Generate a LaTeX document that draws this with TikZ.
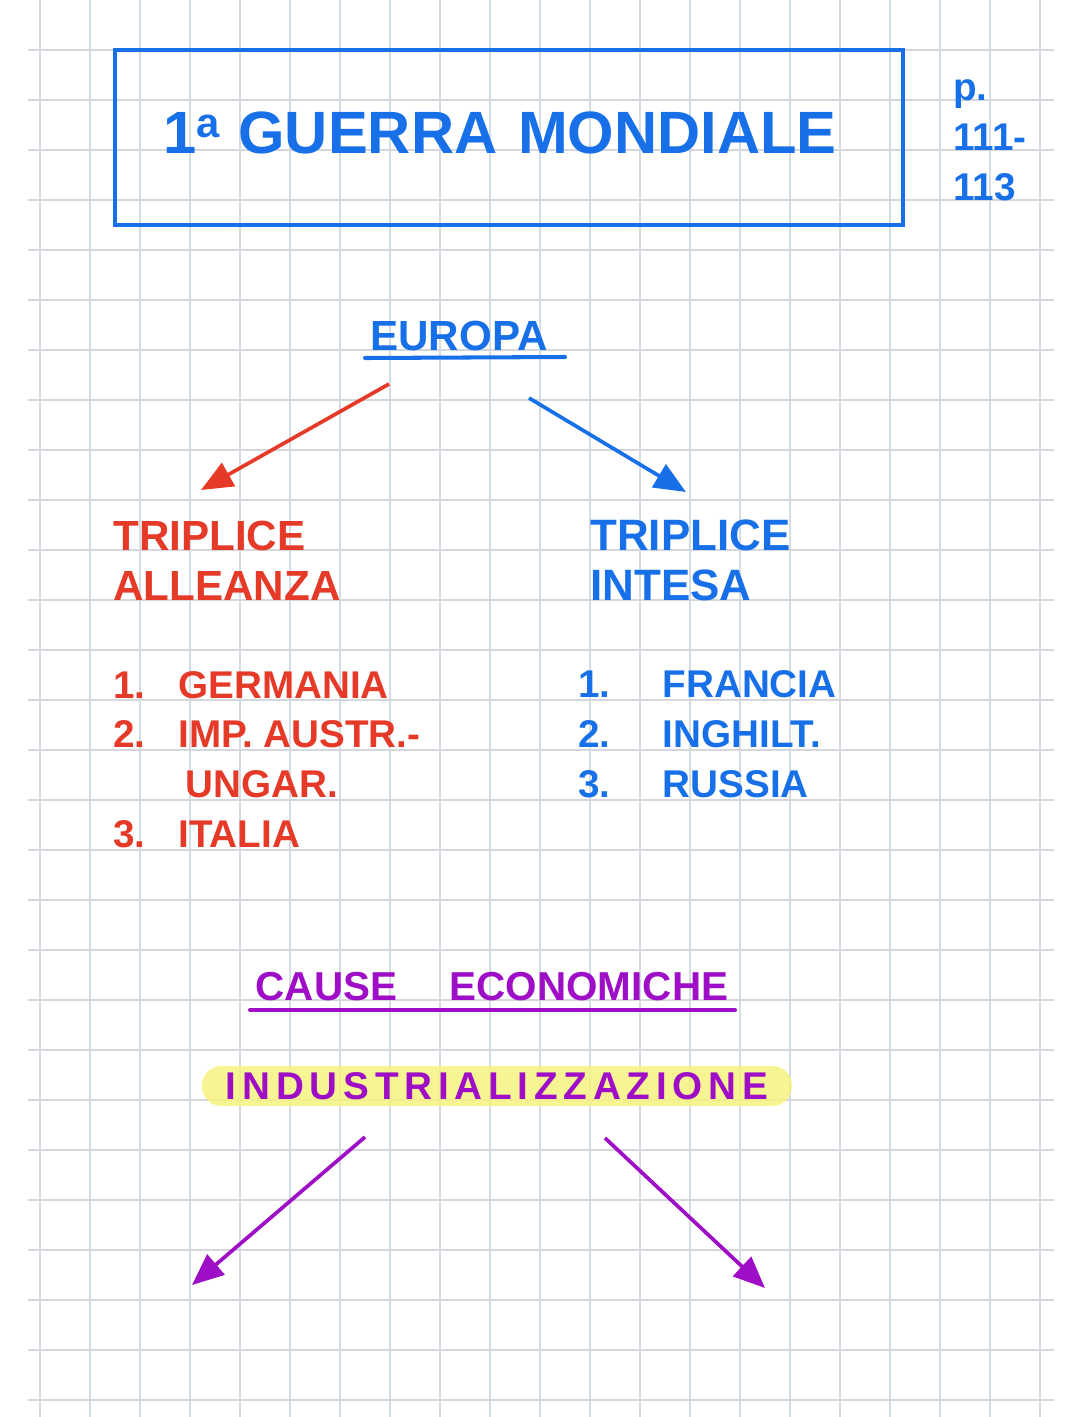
\documentclass[tikz,border=0pt]{standalone}
\usepackage{fontspec}
\setmainfont{Liberation Sans}
\usepackage{tikz}
\usetikzlibrary{positioning,arrows.meta}

\definecolor{inkblue}{RGB}{24,112,232}
\definecolor{inkred}{RGB}{230,58,40}
\definecolor{inkpurple}{RGB}{158,14,198}
\definecolor{hilite}{RGB}{246,243,128}
\definecolor{gridv}{RGB}{212,220,228}
\definecolor{gridh}{RGB}{212,215,219}

\newcommand{\itemnr}[2][37pt]{\makebox[#1][l]{#2}}

\tikzset{
  hand/.style={inner sep=0pt, align=left, font=\bfseries\fontsize{#1}{28.2}\selectfont},
  arr/.style={line width=2.1pt, -{Triangle[length=18pt,width=15pt]}},
  uline/.style={line width=2.3pt, line cap=round}
}

\begin{document}
\begin{tikzpicture}[x=0.02cm, y=-0.02cm]
    \useasboundingbox (0,0) rectangle (1080,1417);
    % squared paper
    \foreach \i in {0,...,20}
        \draw[gridv, line width=0.8pt] ({40+50*\i},0) -- ({40+50*\i},1417);
    \foreach \j in {1,...,28}
        \draw[gridh, line width=1.2pt] (28,{50*\j}) -- (1054,{50*\j});

    % title
    \draw[inkblue, line width=2.4pt] (115,50) rectangle (903,225);
    \node[hand=34, text=inkblue, anchor=base] (T1) at (500,153) {1\textsuperscript{a}\hspace{0.3em}GUERRA\hspace{0.35em}MONDIALE};
    % multi-line nodes: base = last line
    \node[hand=22, text=inkblue, anchor=base west] (P1) at (953,200) {p.\\111-\\113};

    % europa
    \node[hand=24, text=inkblue, anchor=base] (E1) at (459,350) {EUROPA};
    \draw[uline, inkblue] (365,358) -- (565,357);
    \coordinate (R0) at (389,384);
    \coordinate (R1) at (201,490);
    \coordinate (B0) at (529,398);
    \coordinate (B1) at (686,492);
    \draw[arr, inkred] (R0) -- (R1);
    \draw[arr, inkblue] (B0) -- (B1);

    \node[hand=24, text=inkred, anchor=base west] (A1) at (113,600) {TRIPLICE\\ALLEANZA};
    \node[hand=22, text=inkred, anchor=base west] (A2) at (113,847) {\itemnr{1.}GERMANIA\\\itemnr{2.}IMP. AUSTR.-\\\itemnr[41pt]{}UNGAR.\\\itemnr{3.}ITALIA};

    \node[hand=25, text=inkblue, anchor=base west] (I1) at (590,600) {TRIPLICE\\INTESA};
    \node[hand=22, text=inkblue, anchor=base west] (I2) at (578,797) {\itemnr[48pt]{1.}FRANCIA\\\itemnr[48pt]{2.}INGHILT.\\\itemnr[48pt]{3.}RUSSIA};

    % cause economiche
    \node[hand=23, text=inkpurple, anchor=base] (C1) at (492,1000) {CAUSE\hspace{1.3em}ECONOMICHE};
    \draw[uline, inkpurple] (250,1010) -- (735,1010);
    \node[fill=hilite, fill opacity=0.85, text opacity=1, rounded corners=11pt, minimum width=11.8cm, minimum height=0.8cm, text=inkpurple, font=\bfseries\fontsize{22}{26}\selectfont\addfontfeature{LetterSpace=15}] (Z1) at (497,1086) {INDUSTRIALIZZAZIONE};
    \coordinate (L0) at (365,1137);
    \coordinate (L1) at (192,1285);
    \coordinate (M0) at (605,1138);
    \coordinate (M1) at (765,1288);
    \draw[arr, inkpurple] (L0) -- (L1);
    \draw[arr, inkpurple] (M0) -- (M1);
\end{tikzpicture}
\end{document}
